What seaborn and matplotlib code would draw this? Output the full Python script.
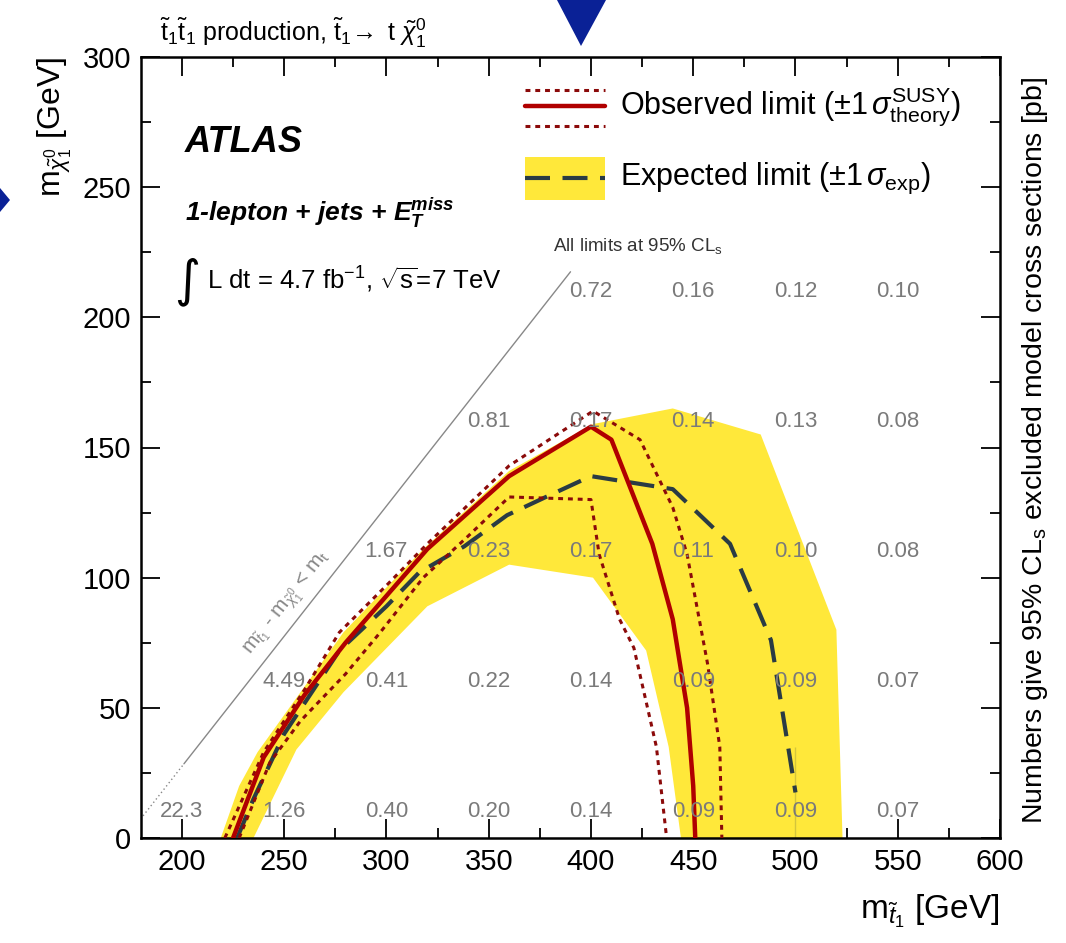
import numpy as np
import pandas as pd
import matplotlib
matplotlib.use("Agg")
import matplotlib.pyplot as plt
import seaborn as sns
from matplotlib.patches import Polygon
from matplotlib.ticker import MultipleLocator

# ---------------- data ----------------
obs_x = [225, 240, 260, 280, 300, 320, 340, 360, 400, 410, 430, 440, 447, 450, 451]
obs_y = [0, 31, 55, 75, 93, 111, 125, 139, 158, 153, 113, 84, 50, 20, 0]

obs_up_x = [221, 240, 260, 277, 300, 320, 340, 360, 401, 424, 440, 447, 457, 463, 464]
obs_up_y = [0, 33, 57, 79, 97, 113, 128, 143, 164, 153, 127, 109, 67, 35, 0]

obs_dn_x = [228, 243, 258, 280, 297, 318, 340, 360, 400, 404, 414, 421, 432, 437]
obs_dn_y = [0, 29, 45, 63, 79, 100, 116, 131, 130, 109, 84, 73, 35, 0]

exp_x = [227, 235, 250, 277, 300, 316, 338, 359, 378, 400, 440, 468, 488, 500, 500]
exp_y = [0, 15, 40, 72, 89, 102, 112, 124, 131, 139, 134, 113, 76, 35, 0]

band_up_x = [219, 228, 237, 279, 318, 360, 401, 440, 483, 520, 523]
band_up_y = [0, 20, 33, 79, 111, 141, 159, 165, 155, 80, 0]
band_dn_x = [235, 256, 279, 320, 360, 401, 427, 438, 444]
band_dn_y = [0, 34, 56, 89, 105, 100, 72, 35, 0]

grid_x = [200, 250, 300, 350, 400, 450, 500, 550,
          250, 300, 350, 400, 450, 500, 550,
          300, 350, 400, 450, 500, 550,
          350, 400, 450, 500, 550,
          400, 450, 500, 550]
grid_y = [10] * 8 + [60] * 7 + [110] * 6 + [160] * 5 + [210] * 4
grid_lbl = ["22.3", "1.26", "0.40", "0.20", "0.14", "0.09", "0.09", "0.07",
            "4.49", "0.41", "0.22", "0.14", "0.09", "0.09", "0.07",
            "1.67", "0.23", "0.17", "0.11", "0.10", "0.08",
            "0.81", "0.17", "0.14", "0.13", "0.08",
            "0.72", "0.16", "0.12", "0.10"]

m_top = 172.5
diag_x = [181, 201, 390]

# ---------------- style ----------------
sns.set_theme(style="white")
plt.rcParams['font.family'] = ['Liberation Sans', 'DejaVu Sans']
plt.rcParams['mathtext.fontset'] = 'custom'
plt.rcParams['mathtext.rm'] = 'Liberation Sans'
plt.rcParams['mathtext.it'] = 'Liberation Sans:italic'
plt.rcParams['mathtext.bf'] = 'Liberation Sans:bold:italic'
plt.rcParams['text.color'] = 'black'
plt.rcParams['axes.labelcolor'] = 'black'
plt.rcParams['xtick.color'] = 'black'
plt.rcParams['ytick.color'] = 'black'

YELLOW = "#FFE83A"
RED = "#B00000"
DRED = "#8B0A0A"
DASH = "#2A3B44"

fig = plt.figure(figsize=(10.66, 9.43), dpi=100)
ax = fig.add_axes([141 / 1066, 1 - 838 / 943, (1000 - 141) / 1066, (838 - 57) / 943])

# band
bx = band_up_x + band_dn_x[::-1]
by = band_up_y + band_dn_y[::-1]
ax.fill(bx, by, color=YELLOW, lw=0, zorder=1)

# diagonal kinematic line
dd = pd.DataFrame({"x": diag_x, "y": [v - m_top for v in diag_x]})
sns.lineplot(data=dd.iloc[:2], x="x", y="y", ax=ax, color="#888888", lw=1,
             linestyle=(0, (1, 2)), sort=False, zorder=2)
sns.lineplot(data=dd.iloc[1:], x="x", y="y", ax=ax, color="#888888", lw=1,
             sort=False, zorder=2)

# grid numbers
for gx, gy, gl in zip(grid_x, grid_y, grid_lbl):
    ax.text(gx, gy, gl, ha="center", va="center", fontsize=16, color="#7a7a7a", zorder=5)

# limits
sns.lineplot(x=exp_x, y=exp_y, ax=ax, color=DASH, lw=3, sort=False,
             linestyle=(0, (6, 3)), zorder=3)
sns.lineplot(x=obs_up_x, y=obs_up_y, ax=ax, color=DRED, lw=2.2, sort=False,
             linestyle=(0, (1.6, 1.6)), zorder=3)
sns.lineplot(x=obs_dn_x, y=obs_dn_y, ax=ax, color=DRED, lw=2.2, sort=False,
             linestyle=(0, (1.6, 1.6)), zorder=3)
sns.lineplot(x=obs_x, y=obs_y, ax=ax, color=RED, lw=3.2, sort=False, zorder=4)

ax.set_xlim(180, 600)
ax.set_ylim(0, 300)
ax.xaxis.set_major_locator(MultipleLocator(50))
ax.xaxis.set_minor_locator(MultipleLocator(25))
ax.yaxis.set_major_locator(MultipleLocator(50))
ax.yaxis.set_minor_locator(MultipleLocator(25))
ax.tick_params(which="both", direction="in", top=True, right=True, bottom=True, left=True,
               color="black", labelcolor="black", labelsize=21, width=1.3)
ax.tick_params(which="major", length=14, pad=7)
ax.tick_params(which="minor", length=7)
ax.tick_params(axis="y", labelright=False)
for s in ax.spines.values():
    s.set_linewidth(1.8)
    s.set_color("black")

ax.set_xlabel(r"m$_{\tilde{t}_1}$ [GeV]", fontsize=24, loc="right", labelpad=12)
ax.set_ylabel(r"m$_{\tilde{\chi}^0_1}$ [GeV]", fontsize=23, loc="top", labelpad=6)

# texts
ax.text(0.051, 0.89, "ATLAS", transform=ax.transAxes, fontsize=26, fontweight="bold",
        fontstyle="italic", va="center")
ax.text(0.051, 0.80, r"1-lepton + jets + E$_{\mathbf{T}}^{\mathbf{miss}}$", transform=ax.transAxes,
        fontsize=19, fontweight="bold", fontstyle="italic", va="center")
ax.text(0.038, 0.712, "\u222b", transform=ax.transAxes, fontsize=36, va="center",
        family=["DejaVu Sans"])
ax.text(0.077, 0.715, r"L dt = 4.7 fb$^{-1}$, $\sqrt{\mathrm{s}}$=7 TeV", transform=ax.transAxes,
        fontsize=18.5, va="center")
ax.text(0.48, 0.758, r"All limits at 95% CL$_{\mathrm{s}}$", transform=ax.transAxes,
        fontsize=13.5, color="#333333", va="center")
ax.text(252, 90, r"m$_{\tilde{t}_1}$ - m$_{\tilde{\chi}^0_1}$ < m$_{\mathrm{t}}$", fontsize=15,
        color="#888888", rotation=51.8, ha="center", va="center", rotation_mode="anchor")

# legend
lx0, lx1 = 0.447, 0.540
ax.fill_between([lx0, lx1], 0.817, 0.872, transform=ax.transAxes, color=YELLOW, lw=0)
ax.plot([lx0, lx1], [0.845, 0.845], transform=ax.transAxes, color=DASH, lw=3,
        linestyle=(0, (6, 3)))
ax.plot([lx0, lx1], [0.937, 0.937], transform=ax.transAxes, color=RED, lw=3.2)
ax.plot([lx0, lx1], [0.958, 0.958], transform=ax.transAxes, color=DRED, lw=2.2,
        linestyle=(0, (1.6, 1.6)))
ax.plot([lx0, lx1], [0.912, 0.912], transform=ax.transAxes, color=DRED, lw=2.2,
        linestyle=(0, (1.6, 1.6)))
ax.text(0.558, 0.937, r"Observed limit ($\pm$1$\,\sigma^{\mathrm{SUSY}}_{\mathrm{theory}}$)",
        transform=ax.transAxes, fontsize=22, va="center")
ax.text(0.558, 0.845, r"Expected limit ($\pm$1$\,\sigma_{\mathrm{exp}}$)",
        transform=ax.transAxes, fontsize=22, va="center")

# right-side label
fig.text(1035 / 1066, 1 - 450 / 943,
         r"Numbers give 95% CL$_{\mathrm{s}}$ excluded model cross sections [pb]",
         rotation=90, fontsize=20.5, ha="center", va="center")

# top title
fig.text(160 / 1066, 1 - 33 / 943,
         r"$\tilde{\mathrm{t}}_1\tilde{\mathrm{t}}_1$ production, $\tilde{\mathrm{t}}_1\!\rightarrow$ t $\tilde{\chi}_1^0$",
         fontsize=18, ha="left", va="center")

# blue triangle markers outside the plot
W, H = 1066, 943
tri1 = Polygon([[557 / W, 1.0], [606 / W, 1.0], [581 / W, 1 - 46 / H]], closed=True,
               transform=fig.transFigure, color="#0A2196", lw=0)
tri2 = Polygon([[0, 1 - 188 / H], [10 / W, 1 - 200 / H], [0, 1 - 212 / H]], closed=True,
               transform=fig.transFigure, color="#0A2196", lw=0)
fig.patches.extend([tri1, tri2])

fig.savefig("out.png", dpi=100)
